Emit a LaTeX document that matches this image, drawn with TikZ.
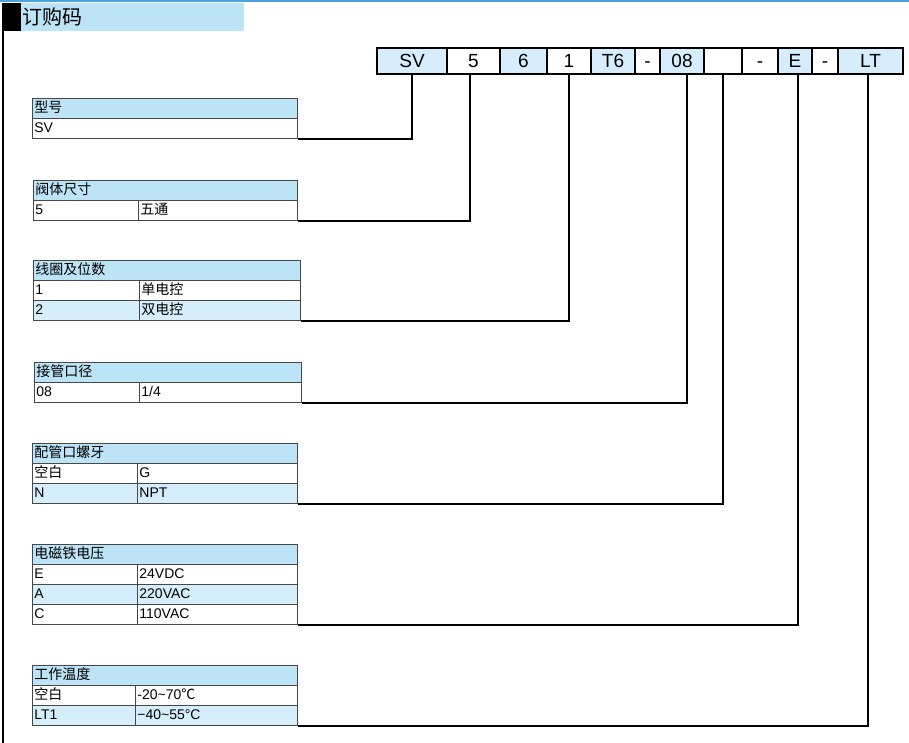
\documentclass[tikz,border=0pt]{standalone}
\usepackage{fontspec}
\setmainfont{Liberation Sans}
\newfontfamily\cjk{Noto Sans CJK SC}
\definecolor{hdrblue}{HTML}{BDE3F7}
\definecolor{altblue}{HTML}{D6EEFB}
\definecolor{topline}{HTML}{4AA3DF}
\newcommand\tabfont{\fontsize{14}{16}\selectfont}
\newcommand\tcell[6]{%
  \pgfmathsetmacro\tcw{#4-4}%
  \node[tcellbox, fill=#5, minimum width=#4pt, text width=\tcw pt] (#1) at (#2,#3) {#6};}
\tikzset{
  tcellbox/.style={draw=black!72, line width=0.8pt, anchor=north west,
    minimum height=20pt, inner xsep=2pt, inner ysep=0pt, font=\tabfont, align=left,
    text height=10.5pt, text depth=2pt},
  codebox/.style={draw=black, line width=1.1pt, minimum height=26pt, inner sep=0pt,
    font=\fontsize{19}{21}\selectfont, text height=13.6pt, text depth=0pt},
  conn/.style={draw=black, line width=1.6pt}
}
\begin{document}
\begin{tikzpicture}[x=1pt,y=-1pt]
\useasboundingbox (0,0) rectangle (909,743);
% header band
\fill[topline] (0,0) rectangle (909,2.5);
\node[fill=black, anchor=north west, minimum width=19pt, minimum height=28pt, inner sep=0pt] (blk) at (2,3) {};
\node[fill=hdrblue, anchor=north west, minimum width=223pt, minimum height=28pt, inner xsep=1pt, inner ysep=0pt, text width=221pt, align=left, font=\fontsize{20}{22}\selectfont] (title) at (21,3) {\cjk 订购码};
\draw[line width=1.5pt] (blk.south west -| 3,0) -- (3,743);

% code boxes
\node[codebox, fill=altblue, minimum width=70pt] (cSV) at (412,61) {SV};
\node[codebox, fill=white, minimum width=53pt] (c5) at (473.5,61) {5};
\node[codebox, fill=altblue, minimum width=47pt] (c6) at (523.5,61) {6};
\node[codebox, fill=white, minimum width=44pt] (c1) at (569,61) {1};
\node[codebox, fill=altblue, minimum width=44pt] (cT6) at (613,61) {T6};
\node[codebox, fill=white, minimum width=25pt] (cd1) at (647.5,61) {-};
\node[codebox, fill=altblue, minimum width=44pt] (c08) at (682,61) {08};
\node[codebox, fill=white, minimum width=38pt] (cbl) at (723,61) {};
\node[codebox, fill=white, minimum width=36pt] (cd2) at (760,61) {-};
\node[codebox, fill=altblue, minimum width=34pt] (cE) at (795,61) {E};
\node[codebox, fill=white, minimum width=26pt] (cd3) at (825,61) {-};
\node[codebox, fill=altblue, minimum width=65pt] (cLT) at (870.5,61) {LT};

% table 1
\tcell{t1h}{32}{98}{265}{hdrblue}{\cjk 型号}
\tcell{t1a}{32}{118}{265}{white}{SV}
% table 2
\tcell{t2h}{33}{180}{264}{hdrblue}{\cjk 阀体尺寸}
\tcell{t2a}{33}{200}{105}{white}{5}
\tcell{t2b}{138}{200}{159}{white}{\cjk 五通}
% table 3
\tcell{t3h}{33}{260}{267}{hdrblue}{\cjk 线圈及位数}
\tcell{t3a}{33}{280}{106}{white}{1}
\tcell{t3b}{139}{280}{161}{white}{\cjk 单电控}
\tcell{t3c}{33}{300}{106}{altblue}{2}
\tcell{t3d}{139}{300}{161}{altblue}{\cjk 双电控}
% table 4
\tcell{t4h}{34}{362}{267}{hdrblue}{\cjk 接管口径}
\tcell{t4a}{34}{382}{105}{white}{08}
\tcell{t4b}{139}{382}{162}{white}{1/4}
% table 5
\tcell{t5h}{32}{443}{265}{hdrblue}{\cjk 配管口螺牙}
\tcell{t5a}{32}{463}{105}{white}{\cjk 空白}
\tcell{t5b}{137}{463}{160}{white}{G}
\tcell{t5c}{32}{483}{105}{altblue}{N}
\tcell{t5d}{137}{483}{160}{altblue}{NPT}
% table 6
\tcell{t6h}{32}{544}{265}{hdrblue}{\cjk 电磁铁电压}
\tcell{t6a}{32}{564}{105}{white}{E}
\tcell{t6b}{137}{564}{160}{white}{24VDC}
\tcell{t6c}{32}{584}{105}{altblue}{A}
\tcell{t6d}{137}{584}{160}{altblue}{220VAC}
\tcell{t6e}{32}{604}{105}{white}{C}
\tcell{t6f}{137}{604}{160}{white}{110VAC}
% table 7
\tcell{t7h}{32}{665}{265}{hdrblue}{\cjk 工作温度}
\tcell{t7a}{32}{685}{103}{white}{\cjk 空白}
\tcell{t7b}{135}{685}{162}{white}{-20\textasciitilde70{\cjk ℃}}
\tcell{t7c}{32}{705}{103}{altblue}{LT1}
\tcell{t7d}{135}{705}{162}{altblue}{−40\textasciitilde55°C}

% connectors
\draw[conn] (cSV.south) |- (t1a.south east);
\draw[conn] ([xshift=-3.5pt]c5.south) |- (t2b.south east);
\draw[conn] (c1.south) |- (t3d.south east);
\draw[conn] ([xshift=5pt]c08.south) |- (t4b.south east);
\draw[conn] (cbl.south) |- (t5d.south east);
\draw[conn] ([xshift=3pt]cE.south) |- (t6f.south east);
\draw[conn] ([xshift=-2.5pt]cLT.south) |- (t7d.south east);
\end{tikzpicture}
\end{document}
